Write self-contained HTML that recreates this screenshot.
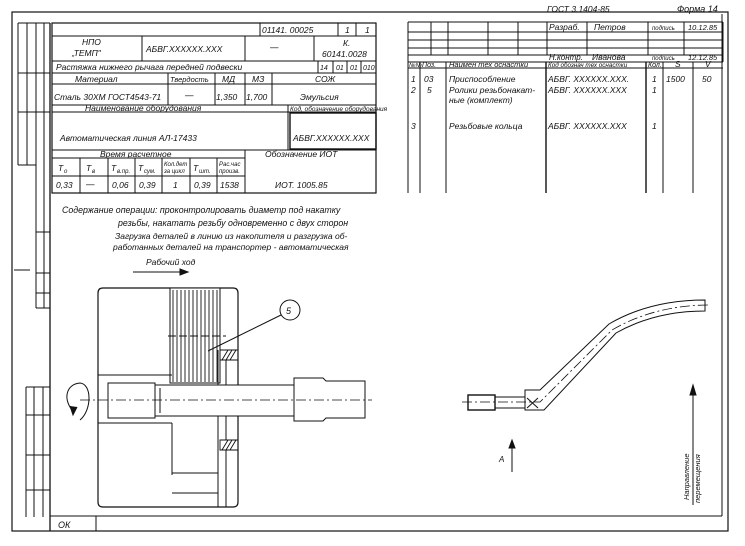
<!DOCTYPE html>
<html><head><meta charset="utf-8"><style>
html,body{margin:0;padding:0;background:#fff;}
svg{display:block;}
text{font-family:"Liberation Sans","DejaVu Sans",sans-serif;font-style:italic;fill:#111;}
</style></head><body>
<svg width="745" height="546" viewBox="0 0 745 546" xmlns="http://www.w3.org/2000/svg">
<g stroke="#111" fill="none" stroke-width="1">
<rect x="12" y="12" width="716" height="519" stroke-width="1.2"/>
<line x1="50" y1="516" x2="722" y2="516"/>
<line x1="722" y1="14" x2="722" y2="516"/>
<line x1="96" y1="516" x2="96" y2="531"/>
<line x1="50" y1="23" x2="50" y2="531" stroke-width="1.3"/>
<line x1="18" y1="23" x2="18" y2="165"/><line x1="27" y1="23" x2="27" y2="165"/>
<line x1="36" y1="23" x2="36" y2="308"/><line x1="44" y1="23" x2="44" y2="308"/>
<line x1="18" y1="23" x2="50" y2="23"/><line x1="18" y1="165" x2="36" y2="165"/>
<line x1="18" y1="73" x2="50" y2="73"/><line x1="18" y1="112" x2="50" y2="112"/>
<line x1="36" y1="232" x2="50" y2="232"/><line x1="36" y1="273" x2="50" y2="273"/>
<line x1="36" y1="293" x2="50" y2="293"/><line x1="36" y1="308" x2="50" y2="308"/>
<line x1="14" y1="270" x2="30" y2="270"/>
<line x1="26" y1="387" x2="26" y2="517"/><line x1="34" y1="387" x2="34" y2="517"/><line x1="43" y1="387" x2="43" y2="517"/>
<line x1="26" y1="387" x2="50" y2="387"/><line x1="26" y1="415" x2="50" y2="415"/>
<line x1="26" y1="455" x2="50" y2="455"/><line x1="26" y1="490" x2="50" y2="490"/>

<rect x="52" y="23" width="324" height="170" stroke-width="1.2"/>
<line x1="52" y1="36" x2="376" y2="36"/>
<line x1="260" y1="23" x2="260" y2="36"/><line x1="338" y1="23" x2="338" y2="36"/><line x1="356" y1="23" x2="356" y2="36"/>
<line x1="52" y1="61" x2="376" y2="61"/>
<line x1="142" y1="36" x2="142" y2="61"/><line x1="245" y1="36" x2="245" y2="61"/><line x1="314" y1="36" x2="314" y2="61"/>
<line x1="52" y1="73" x2="376" y2="73"/>
<line x1="318" y1="61" x2="318" y2="73"/><line x1="333" y1="61" x2="333" y2="73"/><line x1="347" y1="61" x2="347" y2="73"/><line x1="361" y1="61" x2="361" y2="73"/>
<line x1="52" y1="84" x2="376" y2="84"/>
<line x1="168" y1="73" x2="168" y2="105"/><line x1="215" y1="73" x2="215" y2="105"/><line x1="245" y1="73" x2="245" y2="105"/><line x1="272" y1="73" x2="272" y2="105"/>
<line x1="52" y1="105" x2="376" y2="105"/>
<line x1="52" y1="112" x2="376" y2="112"/>
<line x1="288" y1="105" x2="288" y2="150"/>
<rect x="290" y="113" width="86" height="36" stroke-width="1.4"/>
<line x1="52" y1="150" x2="376" y2="150"/>
<line x1="52" y1="158" x2="245" y2="158"/>
<line x1="245" y1="150" x2="245" y2="193"/>
<line x1="52" y1="176" x2="245" y2="176"/>
<line x1="80" y1="158" x2="80" y2="193"/><line x1="108" y1="158" x2="108" y2="193"/><line x1="135" y1="158" x2="135" y2="193"/><line x1="162" y1="158" x2="162" y2="193"/><line x1="190" y1="158" x2="190" y2="193"/><line x1="217" y1="158" x2="217" y2="193"/>

<line x1="408" y1="22" x2="723" y2="22"/>
<line x1="408" y1="32" x2="723" y2="32"/><line x1="408" y1="40" x2="723" y2="40"/><line x1="408" y1="48" x2="723" y2="48"/><line x1="408" y1="55" x2="723" y2="55"/>
<line x1="408" y1="62" x2="723" y2="62"/><line x1="408" y1="68" x2="723" y2="68"/>
<line x1="408" y1="22" x2="408" y2="193"/>
<line x1="431" y1="22" x2="431" y2="55"/><line x1="448" y1="22" x2="448" y2="55"/><line x1="488" y1="22" x2="488" y2="55"/><line x1="518" y1="22" x2="518" y2="55"/>
<line x1="547" y1="22" x2="547" y2="55"/><line x1="587" y1="22" x2="587" y2="55"/><line x1="648" y1="22" x2="648" y2="55"/><line x1="684" y1="22" x2="684" y2="55"/><line x1="723" y1="22" x2="723" y2="62"/>
<line x1="420" y1="62" x2="420" y2="193"/><line x1="446" y1="62" x2="446" y2="193"/><line x1="546" y1="62" x2="546" y2="193" stroke-width="1.4"/>
<line x1="646" y1="62" x2="646" y2="193" stroke-width="1.4"/><line x1="663" y1="62" x2="663" y2="193"/><line x1="693" y1="62" x2="693" y2="193"/>

<line x1="133" y1="272" x2="180" y2="272"/>
<path d="M180 269 L188 272 L180 275 Z" fill="#111"/>
<path d="M103 288 H233 Q238 288 238 293 V502 Q238 507 233 507 H103 Q98 507 98 502 V293 Q98 288 103 288 Z" stroke-width="1.2"/>
<rect x="170" y="288" width="50" height="95" fill="#fff"/>
<g stroke-width="0.9">
<line x1="173" y1="290" x2="173" y2="382"/><line x1="177" y1="290" x2="177" y2="382"/><line x1="181" y1="290" x2="181" y2="382"/><line x1="185" y1="290" x2="185" y2="382"/><line x1="189" y1="290" x2="189" y2="382"/><line x1="193" y1="290" x2="193" y2="382"/><line x1="197" y1="290" x2="197" y2="382"/><line x1="201" y1="290" x2="201" y2="382"/><line x1="205" y1="290" x2="205" y2="382"/><line x1="209" y1="290" x2="209" y2="382"/><line x1="213" y1="290" x2="213" y2="382"/><line x1="217" y1="290" x2="217" y2="382"/>
</g>
<line x1="168" y1="336" x2="226" y2="336" stroke-dasharray="8 3"/>
<line x1="218" y1="350" x2="218" y2="507"/>
<line x1="226" y1="360" x2="226" y2="440"/>
<line x1="226" y1="450" x2="226" y2="507"/>
<path d="M220 350 H238 V360 H220 Z M222 360 L228 350 M226 360 L232 350 M230 360 L236 350" stroke-width="0.9"/>
<path d="M220 440 H238 V450 H220 Z M222 450 L228 440 M226 450 L232 440 M230 450 L236 440" stroke-width="0.9"/>
<line x1="98" y1="375" x2="172" y2="375"/>
<line x1="98" y1="423" x2="172" y2="423"/>
<line x1="172" y1="423" x2="172" y2="475"/>
<line x1="172" y1="473" x2="218" y2="473"/><line x1="172" y1="493" x2="218" y2="493"/>
<rect x="108" y="383" width="47" height="35" fill="#fff"/>
<rect x="155" y="385" width="139" height="31" fill="#fff"/>
<line x1="160" y1="388" x2="160" y2="413"/>
<path d="M294 378 H323 L326 381 H365 V418 H326 L323 421 H294 Z" fill="#fff"/>
<line x1="80" y1="400" x2="372" y2="400" stroke-dasharray="10 3 2 3" stroke-width="0.8"/>
<path d="M74 412 C62 400 66 384 80 383 C92 384 92 410 80 420"/>
<path d="M70 406 L73 415 L77 407" fill="#111"/>
<circle cx="290" cy="310" r="10"/>
<line x1="281" y1="315" x2="208" y2="351"/>
<rect x="468" y="395" width="27" height="15" stroke-width="1.4"/>
<line x1="495" y1="397" x2="525" y2="397"/><line x1="495" y1="408" x2="525" y2="408"/>
<path d="M525 390 H540 L609 324 Q650 300 705 300 L705 311 Q655 311 616 333 L544 410 H525 Z"/>
<path d="M527 398 L538 408 M538 398 L527 408"/>
<path d="M462 402 L540 402 L612 330 Q655 305 710 305" stroke-dasharray="10 3 2 3" stroke-width="0.8"/>
<line x1="512" y1="472" x2="512" y2="442"/>
<path d="M509 448 L512 440 L515 448 Z" fill="#111"/>
<line x1="693" y1="505" x2="693" y2="388"/>
<path d="M690 395 L693 385 L696 395 Z" fill="#111"/>
</g>
<g font-size="8.5">
<text x="262" y="33">01141. 00025</text><text x="345" y="33">1</text><text x="365" y="33">1</text>
<text x="82" y="45">НПО</text><text x="72" y="56">„ТЕМП"</text>
<text x="146" y="52">АБВГ.XXXXXX.XXX</text><text x="270" y="50">—</text>
<text x="343" y="46">К.</text><text x="322" y="57">60141.0028</text>
<text x="56" y="70">Растяжка нижнего рычага передней подвески</text>
<text x="320" y="70" font-size="7">14</text><text x="336" y="70" font-size="7">01</text><text x="350" y="70" font-size="7">01</text><text x="363" y="70" font-size="7">010</text>
<text x="75" y="82">Материал</text><text x="170" y="82" font-size="7.5">Твердость</text><text x="222" y="82">МД</text><text x="252" y="82">МЗ</text><text x="315" y="82">СОЖ</text>
<text x="54" y="100">Сталь 30ХМ ГОСТ4543-71</text><text x="185" y="98">—</text><text x="216" y="100">1,350</text><text x="246" y="100">1,700</text><text x="300" y="100">Эмульсия</text>
<text x="85" y="111">Наименование   оборудования</text><text x="290" y="111" font-size="6.5">Код, обозначение оборудования</text>
<text x="60" y="141">Автоматическая линия АЛ-17433</text><text x="293" y="141">АБВГ.XXXXXX.XXX</text>
<text x="100" y="157">Время    расчетное</text><text x="265" y="157">Обозначение   ИОТ</text>
<text x="58" y="171">T</text><text x="64" y="173" font-size="6">о</text>
<text x="86" y="171">T</text><text x="92" y="173" font-size="6">в</text>
<text x="111" y="171">T</text><text x="117" y="173" font-size="6">в.пр.</text>
<text x="138" y="171">T</text><text x="144" y="173" font-size="6">сум.</text>
<text x="164" y="166" font-size="6">Кол.дет</text><text x="164" y="173" font-size="6">за цикл</text>
<text x="193" y="171">T</text><text x="199" y="173" font-size="6">шт.</text>
<text x="219" y="166" font-size="6">Рас.час</text><text x="219" y="173" font-size="6">произв.</text>
<text x="56" y="188">0,33</text><text x="86" y="187">—</text><text x="112" y="188">0,06</text><text x="139" y="188">0,39</text><text x="173" y="188">1</text><text x="194" y="188">0,39</text><text x="220" y="188">1538</text>
<text x="275" y="188">ИОТ. 1005.85</text>
<text x="547" y="12">ГОСТ 3.1404-85</text><text x="677" y="12" font-size="9">Форма 14</text>
<text x="549" y="30">Разраб.</text><text x="594" y="30">Петров</text><text x="652" y="30" font-size="6">подпись</text><text x="688" y="30" font-size="7.5">10.12.85</text>
<text x="549" y="60" font-size="8">Н.контр.</text><text x="592" y="60">Иванова</text><text x="652" y="60" font-size="6">подпись</text><text x="688" y="60" font-size="7.5">12.12.85</text>
<text x="409" y="67" font-size="6">№№</text><text x="422" y="67" font-size="7">Поз.</text><text x="449" y="67" font-size="7.5">Наимен тех оснастки</text><text x="548" y="67" font-size="6.3">Код обознач тех оснастки</text><text x="648" y="67" font-size="7">Кол.</text><text x="675" y="67">S</text><text x="705" y="67">V</text>
<text x="411" y="82">1</text><text x="424" y="82">03</text><text x="449" y="82">Приспособление</text><text x="548" y="82">АБВГ. XXXXXX.XXX.</text><text x="652" y="82">1</text><text x="666" y="82">1500</text><text x="702" y="82">50</text>
<text x="411" y="93">2</text><text x="427" y="93">5</text><text x="449" y="93">Ролики резьбонакат-</text><text x="548" y="93">АБВГ. XXXXXX.XXX</text><text x="652" y="93">1</text>
<text x="449" y="103">ные (комплект)</text>
<text x="411" y="129">3</text><text x="449" y="129">Резьбовые кольца</text><text x="548" y="129">АБВГ. XXXXXX.XXX</text><text x="652" y="129">1</text>
<text x="62" y="213" font-size="8.8">Содержание операции:   проконтролировать диаметр под накатку</text>
<text x="118" y="226" font-size="8.8">резьбы, накатать резьбу одновременно с двух сторон</text>
<text x="115" y="239" font-size="8.5">Загрузка деталей в линию из накопителя и разгрузка об-</text>
<text x="113" y="250" font-size="8.5">работанных деталей на транспортер - автоматическая</text>
<text x="146" y="265">Рабочий ход</text>
<text x="286" y="314" font-size="9">5</text>
<text x="499" y="462" font-size="8">А</text>
<text x="58" y="528" font-size="9">ОК</text>
<text transform="translate(689,500) rotate(-90)" font-size="7.5">Направление</text>
<text transform="translate(700,503) rotate(-90)" font-size="7.5">перемещения</text>
</g>
</svg>
</body></html>
